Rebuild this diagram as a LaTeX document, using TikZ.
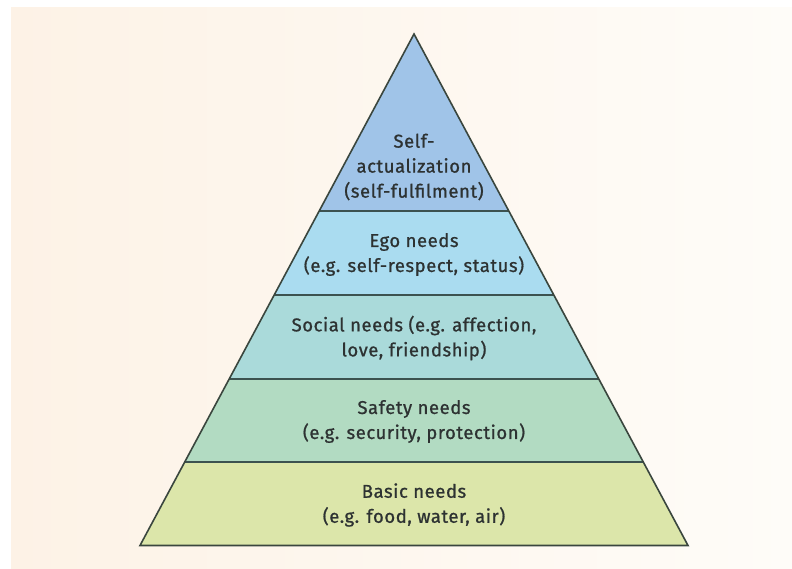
\documentclass[tikz,border=0pt]{standalone}
\usepackage{fontspec}
\usetikzlibrary{calc}
\newfontfamily\lblfont{Fira Sans}[FakeBold=0.9,LetterSpace=3]
\definecolor{bgL}{RGB}{253,242,230}
\definecolor{bgR}{RGB}{254,252,248}
\definecolor{cTop}{RGB}{160,196,232}
\definecolor{cEgo}{RGB}{170,220,240}
\definecolor{cSoc}{RGB}{170,218,218}
\definecolor{cSaf}{RGB}{178,219,194}
\definecolor{cBas}{RGB}{220,230,170}
\definecolor{edge}{RGB}{58,70,62}
\definecolor{sep}{RGB}{60,82,80}
\definecolor{txt}{RGB}{45,50,50}
\begin{document}
\begin{tikzpicture}[x=1pt,y=-1pt,
  lbl/.style={align=center,text=txt,font=\lblfont\fontsize{18.5}{25}\selectfont,inner sep=0pt}]
\useasboundingbox (0,0) rectangle (792,568);
\fill[white] (0,0) rectangle (792,568);
\shade[left color=bgL,right color=bgR] (11,7) rectangle (792,568);
% apex and base
\coordinate (A) at (414,34);
\coordinate (BL) at (140,545.5);
\coordinate (BR) at (688,545.5);
% layer boundary points on left and right edges
\foreach \n/\y in {1/211,2/294.5,3/379,4/462}{
  \coordinate (L\n) at ($(A)!{(\y-34)/(545.5-34)}!(BL)$);
  \coordinate (R\n) at ($(A)!{(\y-34)/(545.5-34)}!(BR)$);
}
\fill[cTop] (A) -- (L1) -- (R1) -- cycle;
\fill[cEgo] (L1) -- (L2) -- (R2) -- (R1) -- cycle;
\fill[cSoc] (L2) -- (L3) -- (R3) -- (R2) -- cycle;
\fill[cSaf] (L3) -- (L4) -- (R4) -- (R3) -- cycle;
\fill[cBas] (L4) -- (BL) -- (BR) -- (R4) -- cycle;
\foreach \n in {1,2,3,4}{\draw[sep,line width=2pt] (L\n) -- (R\n);}
\draw[edge,line width=1.6pt,line join=miter] (A) -- (BL) -- (BR) -- cycle;
% labels
\node[lbl] (self) at (414,167) {Self-\\actualization\\(self-fulfilment)};
\node[lbl] (ego) at (414,254.5) {Ego needs\\(e.g. self-respect, status)};
\node[lbl] (soc) at (414,338) {Social needs (e.g. affection,\\love, friendship)};
\node[lbl] (saf) at (414,421.5) {Safety needs\\(e.g. security, protection)};
\node[lbl] (bas) at (414,505) {Basic needs\\(e.g. food, water, air)};
\end{tikzpicture}
\end{document}
